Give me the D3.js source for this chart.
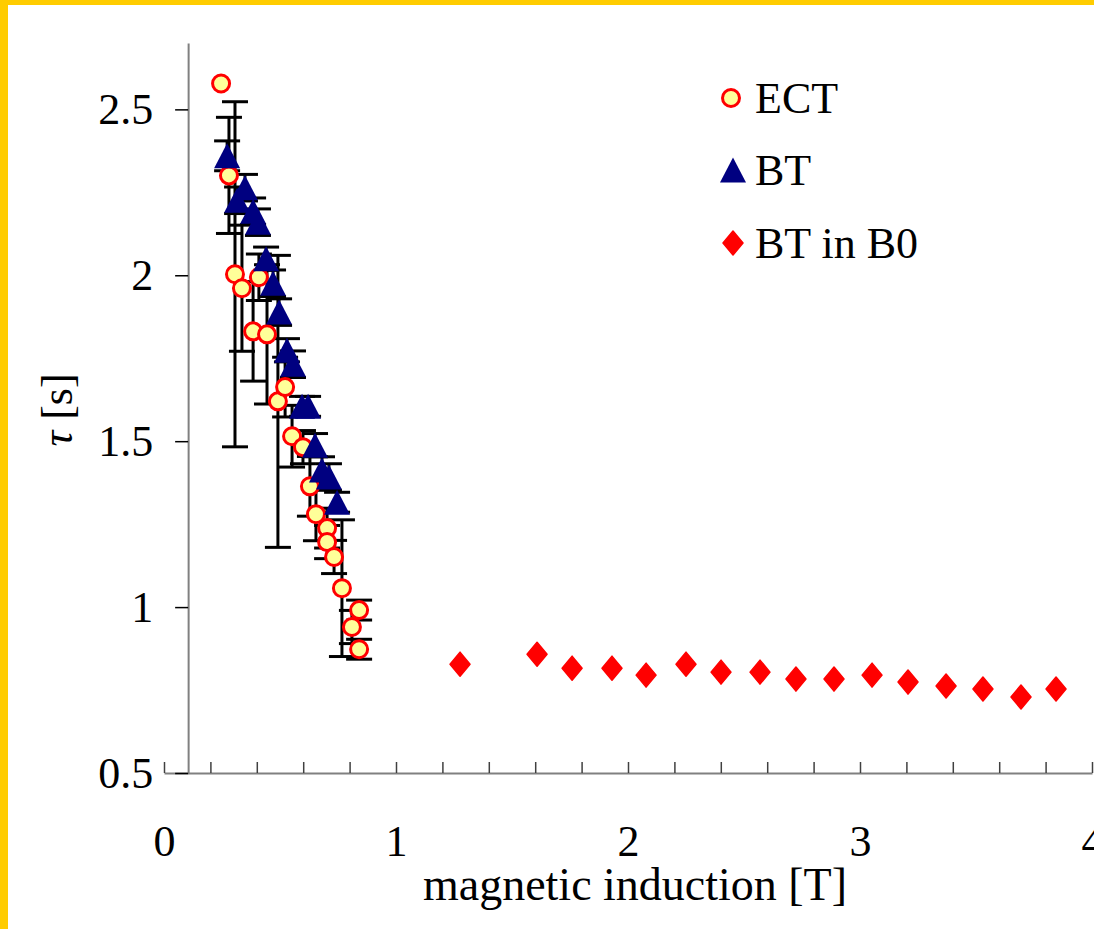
<!DOCTYPE html>
<html>
<head>
<meta charset="utf-8">
<script src="https://cdn.jsdelivr.net/npm/d3@7"></script>
<style>
  body { margin: 0; background: #fff; }
  text { font-family: "Liberation Serif", "Times New Roman", serif; fill: #000; }
</style>
</head>
<body>
<div id="chart"></div>
<script>
// ECT (circles) with error bars
var ectX = [0.246, 0.280, 0.306, 0.336, 0.384, 0.409, 0.444, 0.491, 0.522, 0.552, 0.599, 0.629, 0.655, 0.703, 0.703, 0.733, 0.767, 0.841, 0.810, 0.841];
var ectY = [2.578, 2.301, 2.003, 1.961, 1.831, 1.994, 1.822, 1.620, 1.663, 1.515, 1.482, 1.364, 1.280, 1.238, 1.196, 1.151, 1.057, 0.991, 0.940, 0.873];
var ectErr = [0, 0.175, 0.52, 0.19, 0.15, 0.07, 0.21, 0.44, 0.09, 0.093, 0.05, 0.09, 0.08, 0.06, 0.05, 0.05, 0.206, 0.03, 0.05, 0.03];

// BT (triangles)
var btX = [0.272, 0.349, 0.315, 0.384, 0.405, 0.440, 0.470, 0.496, 0.530, 0.556, 0.595, 0.621, 0.651, 0.681, 0.711, 0.746];
var btY = [2.360, 2.264, 2.226, 2.193, 2.160, 2.050, 1.976, 1.889, 1.774, 1.732, 1.605, 1.605, 1.488, 1.413, 1.392, 1.316];
var btErr = [0.045, 0.04, 0.04, 0.04, 0.04, 0.035, 0.04, 0.04, 0.035, 0.04, 0.03, 0.03, 0.035, 0.04, 0.04, 0.03];

// BT in B0 (diamonds)
var b0X = [1.276, 1.608, 1.759, 1.931, 2.078, 2.250, 2.401, 2.569, 2.724, 2.888, 3.052, 3.207, 3.371, 3.530, 3.694, 3.845];
var b0Y = [0.828, 0.858, 0.816, 0.816, 0.795, 0.828, 0.804, 0.804, 0.783, 0.783, 0.795, 0.774, 0.762, 0.753, 0.729, 0.753];

var yTicks = [0.5, 1, 1.5, 2, 2.5];
var xLabels = [0, 1, 2, 3, 4];
var legendNames = ["ECT", "BT", "BT in B0"];

var width = 1094, height = 929;

var svg = d3.select("#chart").append("svg")
    .attr("width", width)
    .attr("height", height);

// yellow frame
svg.append("rect").attr("x", 0).attr("y", 0).attr("width", width).attr("height", 5).attr("fill", "#FFCC00");
svg.append("rect").attr("x", 0).attr("y", 0).attr("width", 8).attr("height", height).attr("fill", "#FFCC00");

var x = d3.scaleLinear().domain([0, 4]).range([164, 1092]);
var y = d3.scaleLinear().domain([0.5, 2.7]).range([773, 43]);

// x axis, ticks pointing up every 0.2
var xTickVals = d3.range(0, 21).map(function (i) { return i / 5; });
var xAxis = svg.append("g")
    .attr("transform", "translate(0," + y(0.5) + ")")
    .call(d3.axisBottom(x)
        .tickValues(xTickVals)
        .tickSizeInner(-11)
        .tickSizeOuter(0)
        .tickPadding(52)
        .tickFormat(function (d) { return xLabels.indexOf(d) >= 0 ? d : ""; }));
xAxis.select(".domain").attr("stroke", "#808080").attr("stroke-width", 2);
xAxis.selectAll(".tick line").attr("stroke", "#404040").attr("stroke-width", 1.5);
xAxis.selectAll("text").style("font-size", "44px").attr("font-family", null);

// y axis crosses a little right of 0
var yAxis = svg.append("g")
    .attr("transform", "translate(" + x(0.104) + ",0)")
    .call(d3.axisLeft(y)
        .tickValues(yTicks)
        .tickSizeInner(13)
        .tickSizeOuter(0)
        .tickPadding(22)
        .tickFormat(function (d) { return String(d); }));
yAxis.select(".domain").attr("stroke", "#808080").attr("stroke-width", 2);
yAxis.selectAll(".tick line").attr("stroke", "#000").attr("stroke-width", 1.5);
yAxis.selectAll("text").style("font-size", "44px").attr("font-family", null);

// axis titles
svg.append("text")
    .attr("x", 635).attr("y", 900)
    .attr("text-anchor", "middle")
    .style("font-size", "46px")
    .text("magnetic induction [T]");

var yt = svg.append("text")
    .attr("transform", "translate(72,410) rotate(-90)")
    .attr("text-anchor", "middle")
    .style("font-size", "44px");
yt.append("tspan").style("font-style", "italic").text("τ");
yt.append("tspan").text(" [s]");

// error bars
function errorBars(xs, ys, es) {
    var g = svg.append("g").attr("stroke", "#000").attr("stroke-width", 3);
    xs.forEach(function (xv, i) {
        if (!es[i]) return;
        var cx = x(xv), y1 = y(ys[i] + es[i]), y2 = y(ys[i] - es[i]);
        g.append("line").attr("x1", cx).attr("x2", cx).attr("y1", y1).attr("y2", y2);
        g.append("line").attr("x1", cx - 13).attr("x2", cx + 13).attr("y1", y1).attr("y2", y1);
        g.append("line").attr("x1", cx - 13).attr("x2", cx + 13).attr("y1", y2).attr("y2", y2);
    });
}
errorBars(ectX, ectY, ectErr);
errorBars(btX, btY, btErr);

var triPath = "M0,-12.5L13,12.5L-13,12.5Z";
var diaPath = "M0,-12L10,0L0,12L-10,0Z";

// ECT circles
svg.append("g").selectAll("circle")
    .data(ectX).enter().append("circle")
    .attr("cx", function (d) { return x(d); })
    .attr("cy", function (d, i) { return y(ectY[i]); })
    .attr("r", 8.5)
    .attr("fill", "#FFFF99")
    .attr("stroke", "#FF0000")
    .attr("stroke-width", 3);

// BT triangles
svg.append("g").selectAll("path")
    .data(btX).enter().append("path")
    .attr("d", triPath)
    .attr("transform", function (d, i) { return "translate(" + x(d) + "," + y(btY[i]) + ")"; })
    .attr("fill", "#000080");

// BT in B0 diamonds
svg.append("g").selectAll("path")
    .data(b0X).enter().append("path")
    .attr("d", diaPath)
    .attr("transform", function (d, i) { return "translate(" + x(d) + "," + y(b0Y[i]) + ")"; })
    .attr("fill", "#FF0000")
    .attr("stroke", "#FF0000")
    .attr("stroke-width", 1.5)
    .attr("stroke-linejoin", "round");

// legend
var legY = [98, 170, 243];
var leg = svg.append("g");
leg.append("circle").attr("cx", 731).attr("cy", legY[0]).attr("r", 8.5)
    .attr("fill", "#FFFF99").attr("stroke", "#FF0000").attr("stroke-width", 3);
leg.append("path").attr("d", triPath).attr("transform", "translate(733," + legY[1] + ")").attr("fill", "#000080");
leg.append("path").attr("d", diaPath).attr("transform", "translate(733," + legY[2] + ")")
    .attr("fill", "#FF0000").attr("stroke", "#FF0000").attr("stroke-width", 1.5).attr("stroke-linejoin", "round");
legendNames.forEach(function (name, i) {
    leg.append("text")
        .attr("x", 755).attr("y", legY[i])
        .attr("dy", "0.35em")
        .style("font-size", "44px")
        .text(name);
});
</script>
</body>
</html>
